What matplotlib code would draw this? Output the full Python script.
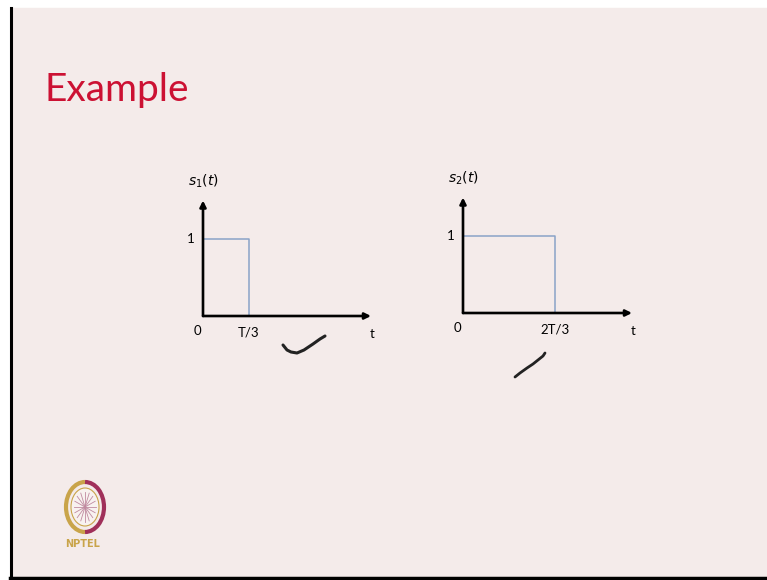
import math
import matplotlib.pyplot as plt
from matplotlib.patches import Ellipse, Rectangle, Arc

W, H = 767, 580

# pulse shapes: time breakpoints (in units of T) and levels
t_s1 = [0, 1 / 3, 1 / 3]
v_s1 = [1, 1, 0]
t_s2 = [0, 2 / 3, 2 / 3]
v_s2 = [1, 1, 0]

tick_s1 = ['0', 'T/3']
tick_s2 = ['0', '2T/3']
ylabels = [r'$s_1(t)$', r'$s_2(t)$']

# hand-drawn ticks on the slide (pixel coords)
mark1_x = [283, 287, 291, 297, 304, 313, 320, 325]
mark1_y = [345, 350, 352, 353, 350, 344, 339, 336]
mark2_x = [515, 520, 527, 533, 538, 543, 545]
mark2_y = [377, 373, 368, 364, 360, 356, 353]

bg = '#f4ebea'
pulse_col = '#8aa3c8'
label_font = 'Lato'
px_x, px_y = 138.0, 77.0   # pixels per unit T / per unit amplitude

fig = plt.figure(figsize=(W / 100, H / 100), dpi=100)
fig.patch.set_facecolor('white')

# slide layer in pixel coordinates
base = fig.add_axes([0, 0, 1, 1])
base.set_xlim(0, W)
base.set_ylim(H, 0)
base.axis('off')
base.add_patch(Rectangle((12, 8), W - 12, 568, color=bg, zorder=0))
base.plot([11, 11], [8, H], color='black', lw=2.2, zorder=1)
base.plot([10, W], [578, 578], color='black', lw=2.5, zorder=1)

base.text(45, 101, 'Example', color='#cc1133', fontsize=28,
          family='Lato', va='baseline', ha='left')

base.plot(mark1_x, mark1_y, color='#222222', lw=2.2, solid_capstyle='round')
base.plot(mark2_x, mark2_y, color='#222222', lw=2.0, solid_capstyle='round')

# NPTEL logo, roughly
base.add_patch(Arc((85, 507), 38, 50, theta1=90, theta2=270, color='#c9a44a', lw=3))
base.add_patch(Arc((85, 507), 38, 50, theta1=-90, theta2=90, color='#a0305a', lw=3))
base.add_patch(Ellipse((85, 507), 28, 38, fc='#f8f2f0', ec='#c9a44a', lw=0.8))
for k in range(8):
    a = math.pi * k / 8
    base.plot([85 - 11 * math.cos(a), 85 + 11 * math.cos(a)],
              [507 - 15 * math.sin(a), 507 + 15 * math.sin(a)],
              color='#c08aa0', lw=0.6)
base.text(83, 544, 'NPTEL', color='#c9a44a', fontsize=7, weight='heavy',
          ha='center', va='center', family='DejaVu Sans')


def pulse_axes(ox, oy, t, v, ticks, ylab, xend):
    x0, x1 = -0.5, 1.5
    y0, y1 = -0.6, 2.0
    ax = fig.add_axes([(ox + x0 * px_x) / W, (H - oy + y0 * px_y) / H,
                       (x1 - x0) * px_x / W, (y1 - y0) * px_y / H])
    ax.set_xlim(x0, x1)
    ax.set_ylim(y0, y1)
    ax.axis('off')
    ax.plot(t, v, color=pulse_col, lw=1.1)
    arrow = dict(arrowstyle='-|>', color='black', lw=1.9, mutation_scale=9,
                 shrinkA=0, shrinkB=0)
    ax.annotate('', xy=(xend, 0), xytext=(0, 0), arrowprops=arrow)
    ax.annotate('', xy=(0, 1.5), xytext=(0, 0), arrowprops=arrow)
    ax.text(-0.04, -0.2, ticks[0], fontsize=9.5, family=label_font,
            ha='center', va='center')
    ax.text(t[1], -0.22, ticks[1], fontsize=9.5, family=label_font,
            ha='center', va='center')
    ax.text(xend + 0.01, -0.23, 't', fontsize=9.5, family=label_font,
            ha='center', va='center')
    ax.text(-0.09, 1.0, '1', fontsize=9.5, family=label_font,
            ha='center', va='center')
    ax.text(0.0, 1.75, ylab, fontsize=10, ha='center', va='center')
    return ax


pulse_axes(203, 316, t_s1, v_s1, tick_s1, ylabels[0], (371 - 203) / px_x)
pulse_axes(463, 313, t_s2, v_s2, tick_s2, ylabels[1], (632 - 463) / px_x)

fig.savefig('out.png', dpi=100, facecolor=fig.get_facecolor())
